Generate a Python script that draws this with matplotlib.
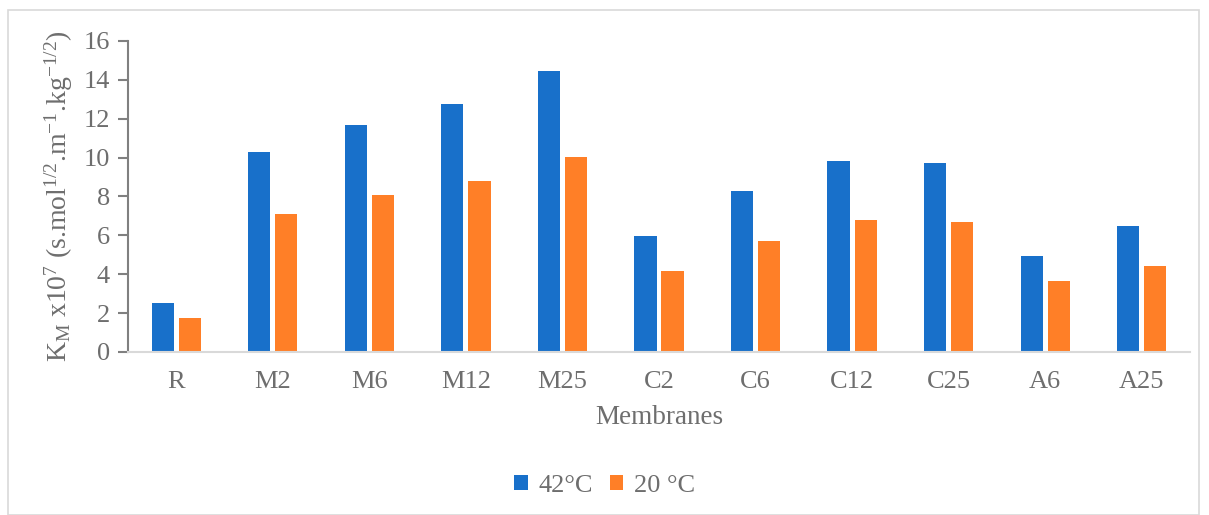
import numpy as np
import matplotlib.pyplot as plt
from matplotlib.patches import Rectangle

plt.rcParams['font.family'] = ['Liberation Serif', 'DejaVu Serif']
plt.rcParams['mathtext.fontset'] = 'custom'
plt.rcParams['mathtext.rm'] = 'Liberation Serif'
plt.rcParams['mathtext.it'] = 'Liberation Serif:italic'

# data
membranes = ["R", "M2", "M6", "M12", "M25", "C2", "C6", "C12", "C25", "A6", "A25"]
km_42 = [2.52, 10.3, 11.68, 12.78, 14.45, 5.97, 8.28, 9.82, 9.72, 4.94, 6.5]
km_20 = [1.73, 7.1, 8.06, 8.8, 10.05, 4.17, 5.7, 6.8, 6.7, 3.66, 4.42]

grey = "#6E6E6E"
blue = "#1870CA"
orange = "#FF7F27"

fig = plt.figure(figsize=(12.09, 5.15), dpi=100)
ax = fig.add_axes([128 / 1209, 1 - 352 / 515, (1190 - 128) / 1209, (352 - 41) / 515])

# chart border like excel
fig.patches.append(Rectangle((8 / 1209, 0), 1191 / 1209, 1 - 10 / 515,
                             transform=fig.transFigure, fill=False,
                             edgecolor="#D9D9D9", linewidth=1.2))

x = np.arange(len(membranes))
w = 0.23
ax.bar(x - 0.14, km_42, w, color=blue, label="42°C", zorder=2)
ax.bar(x + 0.14, km_20, w, color=orange, label="20 °C", zorder=2)

ax.set_xlim(-0.5, len(membranes) - 0.5)
ax.set_ylim(0, 16)
ax.set_yticks(np.arange(0, 17, 2))
ax.set_xticks(x)
ax.set_xticklabels(membranes)

for s in ["top", "right"]:
    ax.spines[s].set_visible(False)
ax.spines["left"].set_color("#808080")
ax.spines["left"].set_linewidth(1.5)
ax.spines["bottom"].set_color("#D9D9D9")
ax.spines["bottom"].set_linewidth(1.5)
ax.tick_params(axis="y", colors="#808080", labelcolor=grey, labelsize=19,
               length=7, width=1.5, direction="out", pad=6)
ax.tick_params(axis="x", length=0, labelcolor=grey, labelsize=19, pad=14)

ax.set_xlabel("Membranes", fontsize=19.5, color=grey, labelpad=8)
ax.set_ylabel(r"K$_\mathrm{M}$ x10$^{7}$ (s.mol$^{1/2}$.m$^{-1}$.kg$^{-1/2}$)",
              fontsize=20, color=grey, labelpad=6)

leg = fig.legend(loc="center", bbox_to_anchor=(0.5, 1 - 486 / 515), ncol=2,
                 frameon=False, fontsize=19, handlelength=0.5, handleheight=0.5,
                 handletextpad=0.4, columnspacing=0.65)
for t in leg.get_texts():
    t.set_color(grey)

fig.savefig("out.png", dpi=100)
